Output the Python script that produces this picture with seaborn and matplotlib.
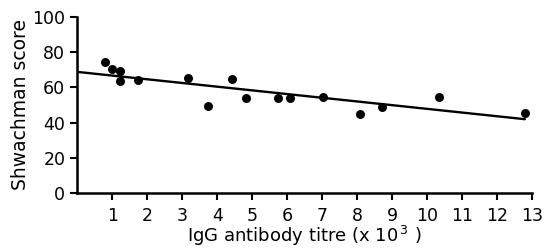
import numpy as np
import pandas as pd
import matplotlib
matplotlib.use("Agg")
import matplotlib.pyplot as plt
import seaborn as sns

# antibody titre (x 10^3) and Shwachman score
titre = [0.8, 0.99, 1.23, 1.23, 1.73, 3.16, 3.74, 4.43, 4.82, 5.73, 6.08,
         7.02, 8.09, 8.72, 10.34, 12.79]
score = [74.5, 70.3, 69.3, 63.5, 64.0, 65.1, 49.6, 64.6, 54.2, 53.9, 54.0,
         54.4, 44.7, 49.0, 54.7, 45.3]
x_ticks = list(range(1, 14))
y_ticks = [0, 20, 40, 60, 80, 100]

df = pd.DataFrame({"titre": titre, "score": score})

sns.set_style("ticks", {"axes.edgecolor": "black", "xtick.color": "black",
                        "ytick.color": "black", "text.color": "black",
                        "axes.labelcolor": "black"})
plt.rcParams["font.family"] = ["DejaVu Sans"]

fig = plt.figure(figsize=(5.51, 2.5), dpi=100)
ax = fig.add_axes([0.14, 0.228, 0.826, 0.704])

# least squares line, drawn from the y axis to the last point
slope, intercept = np.polyfit(df["titre"], df["score"], 1)
line = pd.DataFrame({"titre": [0, df["titre"].max()]})
line["score"] = intercept + slope * line["titre"]
sns.lineplot(data=line, x="titre", y="score", color="black", linewidth=1.7, ax=ax)
sns.scatterplot(data=df, x="titre", y="score", color="black", s=42,
                edgecolor="black", linewidth=0, ax=ax, zorder=3)

ax.set_xlim(0, 13)
ax.set_ylim(0, 100)
ax.set_xticks(x_ticks)
ax.set_yticks(y_ticks)
ax.tick_params(axis="both", labelsize=12.5, width=1.5, length=5, direction="out")
ax.tick_params(axis="x", pad=5)
for side in ["left", "bottom"]:
    ax.spines[side].set_linewidth(1.8)
sns.despine(ax=ax)

ax.set_xlabel(r"IgG antibody titre (x 10$^{\,3}$ )", fontsize=13, labelpad=-1)
ax.set_ylabel("Shwachman score", fontsize=13.5, labelpad=2)

plt.savefig("out.png", dpi=100)
